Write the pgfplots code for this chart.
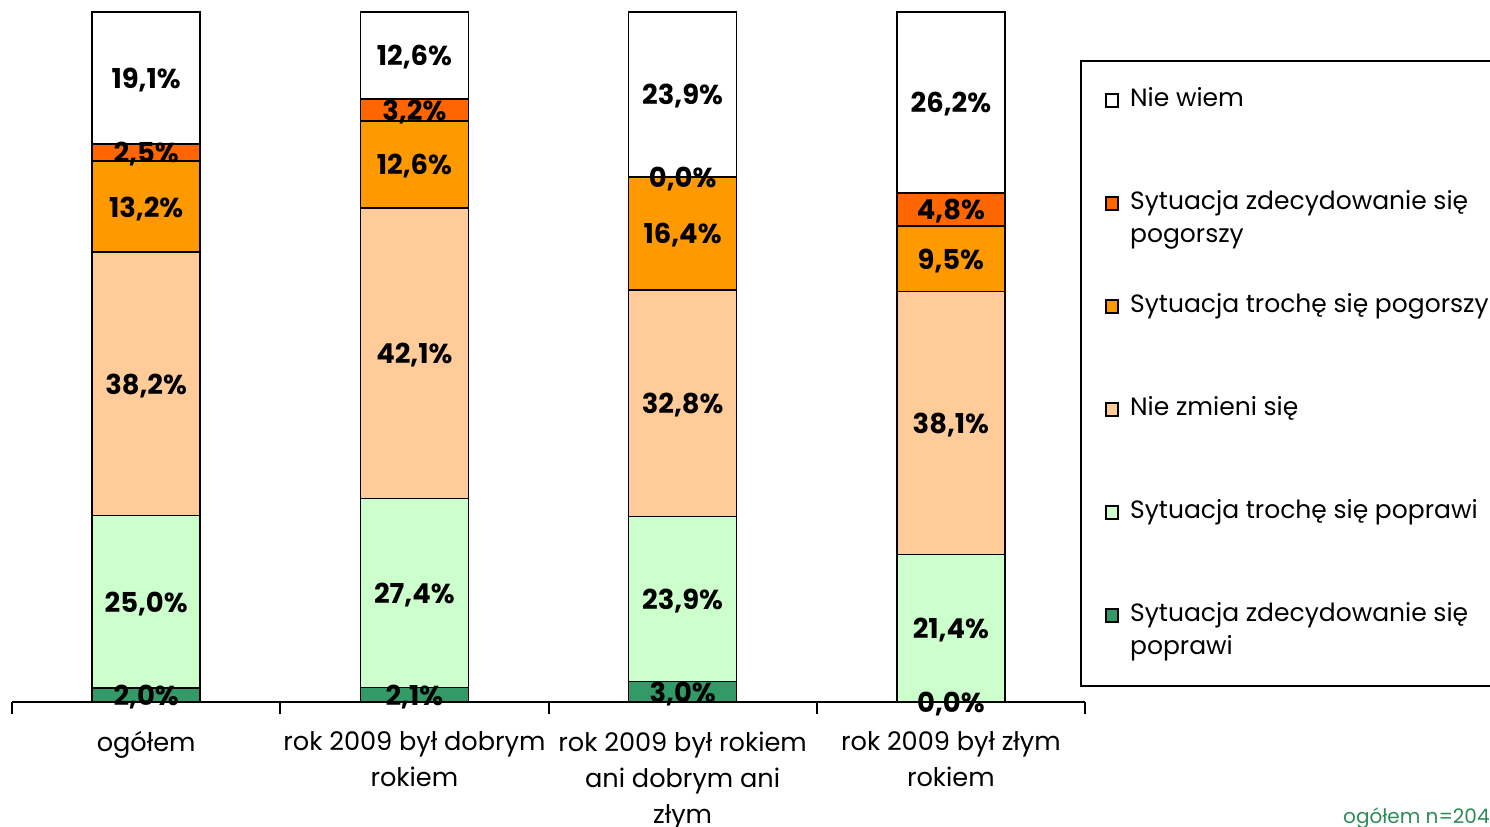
\documentclass[border=0pt]{standalone}
\usepackage{fontspec}
\setmainfont{Poppins}
\usepackage{pgfplots}
\pgfplotsset{compat=1.18}
\usepackage{pgfplotstable}

\definecolor{cNW}{RGB}{255,255,255}
\definecolor{cZP}{RGB}{255,102,0}
\definecolor{cTP}{RGB}{255,153,0}
\definecolor{cNZ}{RGB}{255,204,153}
\definecolor{cTPo}{RGB}{204,255,204}
\definecolor{cZPo}{RGB}{51,153,102}
\definecolor{nGreen}{RGB}{46,139,87}

\pgfplotstableread{
x zpopr tpopr nz tpog zpog nw
0 2.0 25.0 38.2 13.2 2.5 19.1
1 2.1 27.4 42.1 12.6 3.2 12.6
2 3.0 23.9 32.8 16.4 0.0 23.9
3 0.0 21.4 38.1 9.5 4.8 26.2
}\bars

\pgfplotstableread{
x y v
0 1.0 2.0
0 14.5 25.0
0 46.1 38.2
0 71.8 13.2
0 79.65 2.5
0 90.45 19.1
1 1.05 2.1
1 15.8 27.4
1 50.55 42.1
1 77.9 12.6
1 85.8 3.2
1 93.7 12.6
2 1.5 3.0
2 14.95 23.9
2 43.3 32.8
2 67.9 16.4
2 76.1 0.0
2 88.05 23.9
3 0.0 0.0
3 10.7 21.4
3 40.45 38.1
3 64.25 9.5
3 71.4 4.8
3 86.9 26.2
}\labels

\newcommand{\legtwo}[2]{\parbox[t]{210pt}{\fontsize{12.5}{16.5}\selectfont\strut#1\\\strut#2}}

\pgfplotsset{
  myleg/.style={legend image code/.code={\draw[##1,draw=black,line width=0.9pt] (0pt,-0.3pt) rectangle (6.2pt,5.9pt);}}
}

\begin{document}
\begin{tikzpicture}
\useasboundingbox (0,0) rectangle (745pt,413pt);
\begin{axis}[
  at={(6pt,62pt)}, anchor=south west,
  scale only axis, width=536.5pt, height=345pt,
  xmin=-0.5, xmax=3.5, ymin=0, ymax=100, enlargelimits=false,
  ybar stacked, bar width=54pt,
  axis x line*=bottom, axis y line=none,
  x axis line style={line width=1pt,-},
  xtick={0,1,2,3},
  xticklabels={{ogółem},{rok 2009 był dobrym\\rokiem},{rok 2009 był rokiem\\ani dobrym ani\\złym},{rok 2009 był złym\\rokiem}},
  minor xtick={-0.5,0.5,1.5,2.5,3.5},
  major tick length=0pt, minor tick length=6pt, tick align=outside,
  every minor tick/.style={line width=1pt,black},
  xticklabel style={align=center,font=\fontsize{12.8}{18}\selectfont,yshift=-11.3pt},
  reverse legend,
  legend style={at={(0.9953,0.9304)},anchor=north west,draw=black,line width=1pt,
    inner xsep=12pt,inner ysep=11pt,row sep=18.5pt,
    cells={anchor=base west},nodes={inner sep=0pt,text height=11.55pt,text depth=21.45pt},
    /tikz/every odd column/.append style={column sep=5.5pt}},
]
\addplot[fill=cZPo,draw=black,line width=0.75pt,myleg] table[x=x,y=zpopr]{\bars};
\addlegendentry{\legtwo{Sytuacja zdecydowanie się}{poprawi}}
\addplot[fill=cTPo,draw=black,line width=0.75pt,myleg] table[x=x,y=tpopr]{\bars};
\addlegendentry{\legtwo{Sytuacja trochę się poprawi}{}}
\addplot[fill=cNZ,draw=black,line width=0.75pt,myleg] table[x=x,y=nz]{\bars};
\addlegendentry{\legtwo{Nie zmieni się}{}}
\addplot[fill=cTP,draw=black,line width=0.75pt,myleg] table[x=x,y=tpog]{\bars};
\addlegendentry{\legtwo{Sytuacja trochę się pogorszy}{}}
\addplot[fill=cZP,draw=black,line width=0.75pt,myleg] table[x=x,y=zpog]{\bars};
\addlegendentry{\legtwo{Sytuacja zdecydowanie się}{pogorszy}}
\addplot[fill=cNW,draw=black,line width=0.75pt,myleg] table[x=x,y=nw]{\bars};
\addlegendentry{\legtwo{Nie wiem}{}}
\end{axis}
\begin{axis}[
  at={(6pt,62pt)}, anchor=south west,
  scale only axis, width=536.5pt, height=345pt,
  xmin=-0.5, xmax=3.5, ymin=0, ymax=100, enlargelimits=false,
  hide axis, clip=false,
  /pgf/number format/assume math mode=true,
]
\addplot[only marks, mark=*, mark size=0pt, mark options={draw=none,fill=none},
  point meta=explicit,
  nodes near coords={\pgfmathprintnumber[fixed,fixed zerofill,precision=1,use comma]{\pgfplotspointmeta}\%},
  nodes near coords style={anchor=center,yshift=-1pt,font=\bfseries\fontsize{13.7}{17}\selectfont,text=black}]
  table[x=x,y=y,meta=v]{\labels};
\end{axis}
\node[anchor=base east,text=nGreen,font=\fontsize{10}{12}\selectfont,inner sep=0pt] at (745pt,1.5pt) {ogółem n=204};
\end{tikzpicture}
\end{document}
